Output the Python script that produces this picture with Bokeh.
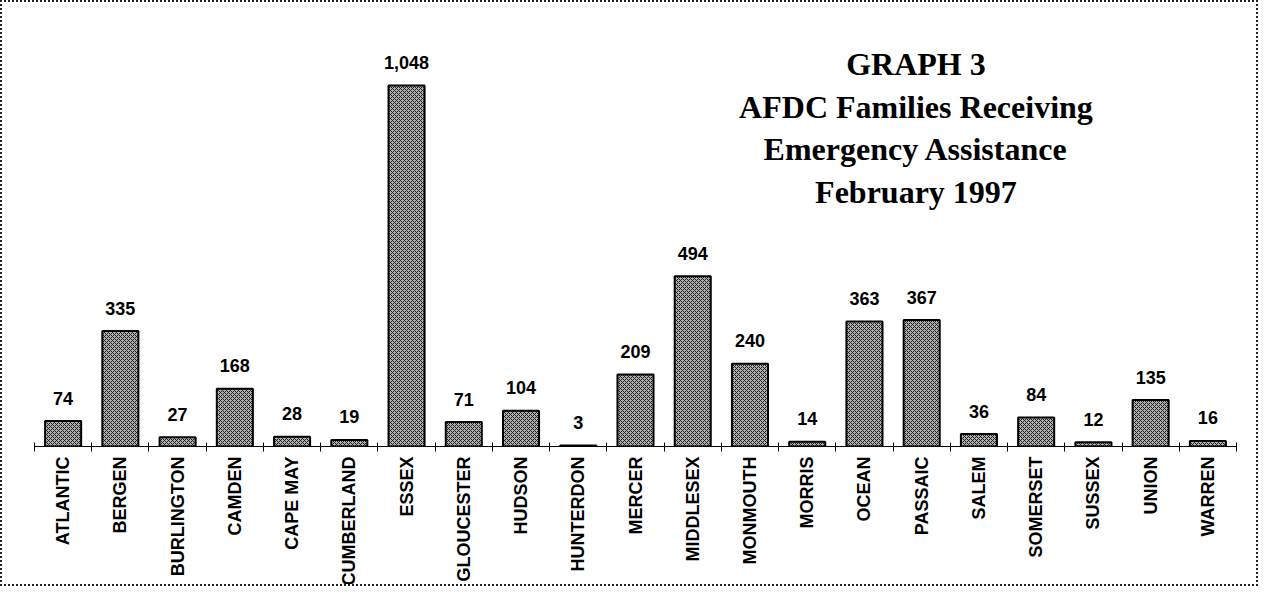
from bokeh.plotting import figure
from bokeh.models import Range1d, FixedTicker, LinearAxis, Label, ColumnDataSource
from bokeh.core.properties import value
from bokeh.embed import file_html
from bokeh.resources import INLINE
import math

counties = ["ATLANTIC", "BERGEN", "BURLINGTON", "CAMDEN", "CAPE MAY", "CUMBERLAND",
            "ESSEX", "GLOUCESTER", "HUDSON", "HUNTERDON", "MERCER", "MIDDLESEX",
            "MONMOUTH", "MORRIS", "OCEAN", "PASSAIC", "SALEM", "SOMERSET",
            "SUSSEX", "UNION", "WARREN"]
families = [74, 335, 27, 168, 28, 19, 1048, 71, 104, 3, 209, 494,
            240, 14, 363, 367, 36, 84, 12, 135, 16]
title_lines = ["GRAPH 3", "AFDC Families Receiving", "Emergency Assistance", "February 1997"]

n = len(counties)
centers = [i + 0.5 for i in range(n)]
src = ColumnDataSource(dict(x=centers, top=families, name=counties,
                            lab=[f"{v:,}" for v in families]))

p = figure(width=1258, height=586, output_backend="svg", toolbar_location=None,
           x_range=Range1d(0, n), y_range=Range1d(0, 1260),
           min_border_left=32, min_border_right=24, min_border_top=10,
           min_border_bottom=10, x_axis_location=None, y_axis_location=None)
p.grid.visible = False
p.outline_line_color = None
p.background_fill_color = "white"
p.border_fill_color = "white"
p.styles = {"border": "2px dotted #222"}

p.vbar(x="x", top="top", bottom=0, width=0.63, source=src,
       fill_color="#b0b0b0", line_color="black", line_width=2,
       hatch_pattern="diagonal_cross", hatch_color="#1e1e1e",
       hatch_scale=4, hatch_weight=1)

p.text(x="x", y="top", text="lab", source=src, text_align="center",
       text_baseline="alphabetic", y_offset=-23,
       text_font=value("Liberation Sans"), text_font_style="bold",
       text_font_size="18px", text_color="black")

ax = LinearAxis()
ax.ticker = FixedTicker(ticks=centers, minor_ticks=list(range(n + 1)))
ax.major_label_overrides = {c: name for c, name in zip(centers, counties)}
ax.major_label_orientation = math.pi / 2
ax.major_tick_line_color = None
ax.major_tick_out = 0
ax.major_tick_in = 0
ax.minor_tick_line_color = "black"
ax.minor_tick_in = 4
ax.minor_tick_out = 5
ax.axis_line_color = "black"
ax.axis_line_width = 1
ax.major_label_standoff = 5
ax.major_label_text_font = "Liberation Sans"
ax.major_label_text_font_style = "bold"
ax.major_label_text_font_size = "18px"
ax.major_label_text_color = "black"
p.add_layout(ax, "below")

title_x = 15.4
title_y = [1110, 986, 863, 740]
for t, ty in zip(title_lines, title_y):
    p.add_layout(Label(x=title_x, y=ty, text=t, text_align="center",
                       text_baseline="alphabetic", text_font="Liberation Serif",
                       text_font_style="bold", text_font_size="32px",
                       text_color="black"))

open("out.html", "w").write(file_html(p, INLINE))
